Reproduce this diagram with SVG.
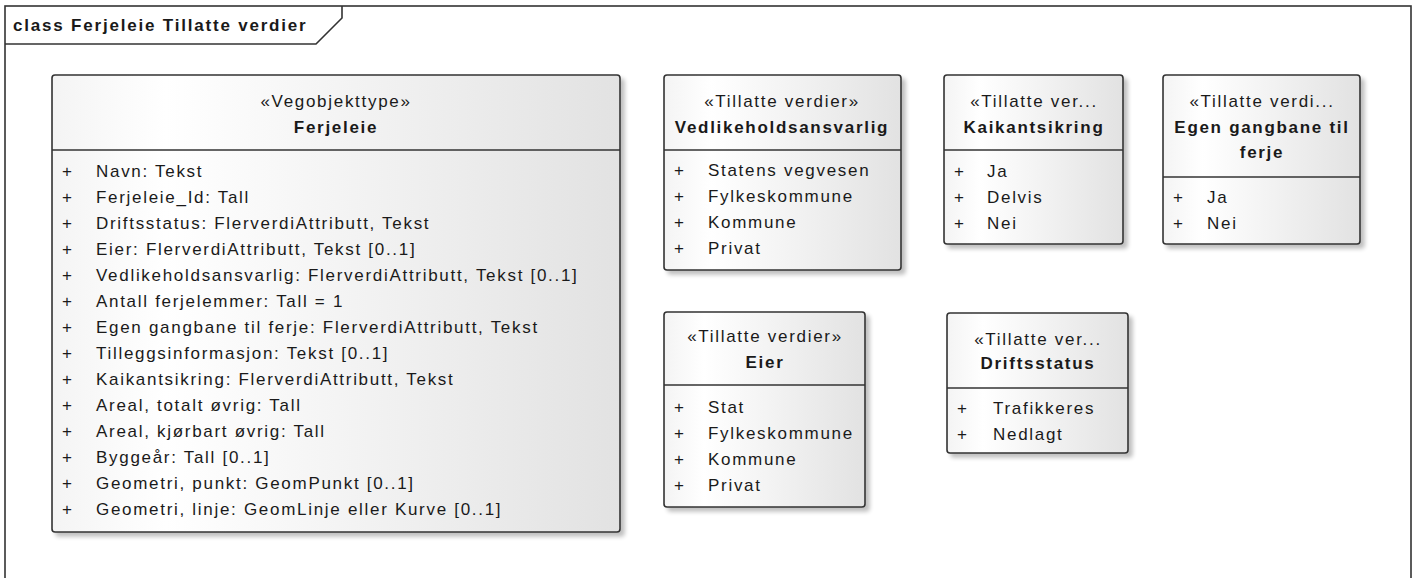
<svg xmlns="http://www.w3.org/2000/svg" width="1414" height="578" viewBox="0 0 1414 578">
<defs>
<linearGradient id="fill" x1="0" y1="0" x2="1" y2="0">
<stop offset="0" stop-color="#f4f4f4"/>
<stop offset="0.2" stop-color="#ffffff"/>
<stop offset="1" stop-color="#e2e2e2"/>
</linearGradient>
<filter id="shadow" x="-10%" y="-10%" width="130%" height="130%">
<feGaussianBlur in="SourceAlpha" stdDeviation="2"/>
<feOffset dx="4" dy="4" result="b"/>
<feComponentTransfer><feFuncA type="linear" slope="0.25"/></feComponentTransfer>
<feMerge><feMergeNode/><feMergeNode in="SourceGraphic"/></feMerge>
</filter>
</defs>
<style>
.frame{fill:#ffffff;stroke:#333333;stroke-width:1.6}
.box{fill:url(#fill);stroke:#333333;stroke-width:1.6;filter:url(#shadow)}
.div{stroke:#333333;stroke-width:1.6}
text{font-family:"Liberation Sans",Arial,sans-serif;font-size:17px;fill:#1a1a1a;letter-spacing:1.7px}
.title{font-weight:bold;letter-spacing:1.8px}
.st{text-anchor:middle}
.nm{text-anchor:middle;font-weight:bold}
</style>
<rect x="0" y="0" width="1414" height="578" fill="#ffffff"/>
<g id="frame">
<rect class="frame" x="5" y="6" width="1406" height="590"/>
<path d="M5,44 L316,44 L342,18 L342,6" fill="none" stroke="#333333" stroke-width="1.6"/>
<text class="title" x="13" y="31">class Ferjeleie Tillatte verdier</text>
</g>
<g id="connectors"></g>
<g id="Ferjeleie">
<rect class="box" x="52" y="75" width="568" height="457" rx="3"/>
<line class="div" x1="52" y1="150" x2="620" y2="150"/>
<text class="st" x="336" y="107">«Vegobjekttype»</text>
<text class="nm" x="336" y="133">Ferjeleie</text>
<g>
<text x="62" y="177">+</text><text x="96" y="177">Navn: Tekst</text>
<text x="62" y="203">+</text><text x="96" y="203">Ferjeleie_Id: Tall</text>
<text x="62" y="229">+</text><text x="96" y="229">Driftsstatus: FlerverdiAttributt, Tekst</text>
<text x="62" y="255">+</text><text x="96" y="255">Eier: FlerverdiAttributt, Tekst [0..1]</text>
<text x="62" y="281">+</text><text x="96" y="281">Vedlikeholdsansvarlig: FlerverdiAttributt, Tekst [0..1]</text>
<text x="62" y="307">+</text><text x="96" y="307">Antall ferjelemmer: Tall = 1</text>
<text x="62" y="333">+</text><text x="96" y="333">Egen gangbane til ferje: FlerverdiAttributt, Tekst</text>
<text x="62" y="359">+</text><text x="96" y="359">Tilleggsinformasjon: Tekst [0..1]</text>
<text x="62" y="385">+</text><text x="96" y="385">Kaikantsikring: FlerverdiAttributt, Tekst</text>
<text x="62" y="411">+</text><text x="96" y="411">Areal, totalt øvrig: Tall</text>
<text x="62" y="437">+</text><text x="96" y="437">Areal, kjørbart øvrig: Tall</text>
<text x="62" y="463">+</text><text x="96" y="463">Byggeår: Tall [0..1]</text>
<text x="62" y="489">+</text><text x="96" y="489">Geometri, punkt: GeomPunkt [0..1]</text>
<text x="62" y="515">+</text><text x="96" y="515">Geometri, linje: GeomLinje eller Kurve [0..1]</text>
</g>
</g>
<g id="Vedlikeholdsansvarlig">
<rect class="box" x="664" y="75" width="237" height="195" rx="3"/>
<line class="div" x1="664" y1="150" x2="901" y2="150"/>
<text class="st" x="782" y="107">«Tillatte verdier»</text>
<text class="nm" x="782" y="133">Vedlikeholdsansvarlig</text>
<text x="674" y="176">+</text><text x="708" y="176">Statens vegvesen</text>
<text x="674" y="202">+</text><text x="708" y="202">Fylkeskommune</text>
<text x="674" y="228">+</text><text x="708" y="228">Kommune</text>
<text x="674" y="254">+</text><text x="708" y="254">Privat</text>
</g>
<g id="Kaikantsikring">
<rect class="box" x="944" y="75" width="179" height="169" rx="3"/>
<line class="div" x1="944" y1="150" x2="1123" y2="150"/>
<text class="st" x="1034" y="107">«Tillatte ver...</text>
<text class="nm" x="1034" y="133">Kaikantsikring</text>
<text x="954" y="177">+</text><text x="987" y="177">Ja</text>
<text x="954" y="203">+</text><text x="987" y="203">Delvis</text>
<text x="954" y="229">+</text><text x="987" y="229">Nei</text>
</g>
<g id="EgenGangbane">
<rect class="box" x="1163" y="75" width="197" height="169" rx="3"/>
<line class="div" x1="1163" y1="177" x2="1360" y2="177"/>
<text class="st" x="1262" y="107">«Tillatte verdi...</text>
<text class="nm" x="1262" y="133">Egen gangbane til</text>
<text class="nm" x="1262" y="158">ferje</text>
<text x="1173" y="203">+</text><text x="1207" y="203">Ja</text>
<text x="1173" y="229">+</text><text x="1207" y="229">Nei</text>
</g>
<g id="Eier">
<rect class="box" x="664" y="312" width="201" height="195" rx="3"/>
<line class="div" x1="664" y1="385" x2="865" y2="385"/>
<text class="st" x="765" y="342">«Tillatte verdier»</text>
<text class="nm" x="765" y="368">Eier</text>
<text x="674" y="413">+</text><text x="708" y="413">Stat</text>
<text x="674" y="439">+</text><text x="708" y="439">Fylkeskommune</text>
<text x="674" y="465">+</text><text x="708" y="465">Kommune</text>
<text x="674" y="491">+</text><text x="708" y="491">Privat</text>
</g>
<g id="Driftsstatus">
<rect class="box" x="947" y="313" width="181" height="140" rx="3"/>
<line class="div" x1="947" y1="388" x2="1128" y2="388"/>
<text class="st" x="1038" y="345">«Tillatte ver...</text>
<text class="nm" x="1038" y="369">Driftsstatus</text>
<text x="957" y="414">+</text><text x="993" y="414">Trafikkeres</text>
<text x="957" y="440">+</text><text x="993" y="440">Nedlagt</text>
</g>
</svg>
